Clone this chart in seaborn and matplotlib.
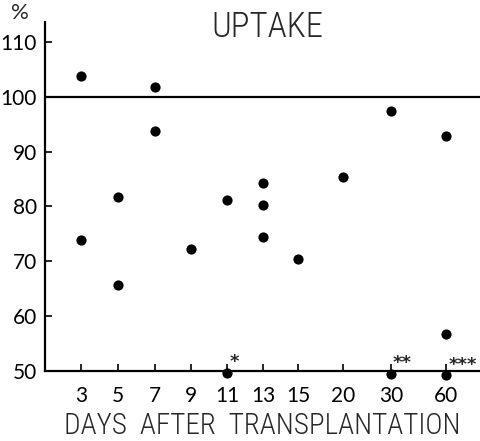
import matplotlib
matplotlib.use("Agg")
import matplotlib.pyplot as plt
import seaborn as sns
import pandas as pd
from matplotlib import font_manager

# ---- data ----
days = ["3", "5", "7", "9", "11", "13", "15", "20", "30", "60"]
# axis position of each day label (the original scale is not evenly spaced)
day_axis_pos = [0, 1.01, 2.03, 3.0, 4.0, 4.99, 5.95, 7.18, 8.49, 10.0]

point_day = ["3", "3", "5", "5", "7", "7", "9", "11", "13", "13", "13", "15", "20", "30", "60", "60"]
point_value = [103.8, 73.8, 81.7, 65.7, 101.8, 93.8, 72.3, 81.2, 84.2, 80.2, 74.5, 70.4, 85.3, 97.4, 92.9, 56.8]

sig_day = ["11", "30", "60"]
sig_value = [49.7, 49.5, 49.2]
sig_label = ["*", "**", "***"]

yticks = [50, 60, 70, 80, 90, 100, 110]
reference_level = 100

# ---- style ----
sns.set_style("ticks")
names = {f.name for f in font_manager.fontManager.ttflist}
base = ["Lato", "DejaVu Sans"] if "Lato" in names else ["DejaVu Sans"]
plt.rcParams["font.family"] = base
narrow = [n for n in ["Roboto Condensed", "Liberation Sans Narrow", "Open Sans Condensed"] if n in names]
cond = (narrow[:1] + base) if narrow else base

pos = dict(zip(days, day_axis_pos))
df = pd.DataFrame({"x": [pos[d] for d in point_day], "y": point_value})
dsig = pd.DataFrame({"x": [pos[d] for d in sig_day], "y": sig_value})

fig = plt.figure(figsize=(4.8, 4.41), dpi=100)
ax = fig.add_axes([45 / 480, 70 / 441, 1 - 45 / 480, (371 - 22) / 441])

ax.axhline(reference_level, color="black", lw=1.6, zorder=1)
sns.scatterplot(data=df, x="x", y="y", ax=ax, color="black", s=54,
                edgecolor="black", linewidth=0, zorder=3, clip_on=False, legend=False)
sns.scatterplot(data=dsig, x="x", y="y", ax=ax, color="black", s=54,
                edgecolor="black", linewidth=0, zorder=3, clip_on=False, legend=False)
for xv, yv, lab in zip(dsig["x"], dsig["y"], sig_label):
    ax.annotate(lab, (xv, yv), xytext=(1.5, 4), textcoords="offset points",
                ha="left", va="baseline", fontsize=13, fontweight="bold",
                family=["DejaVu Sans"], annotation_clip=False)

ax.set_xlim(-0.99, 10.93)
ax.set_ylim(50, 113.6)
ax.set_xticks(day_axis_pos)
ax.set_xticklabels(days)
ax.set_yticks(yticks)
ax.set_yticklabels([str(v) for v in yticks])

for side in ["top", "right"]:
    ax.spines[side].set_visible(False)
for side in ["left", "bottom"]:
    ax.spines[side].set_linewidth(1.6)
    ax.spines[side].set_color("black")

ax.tick_params(axis="both", direction="in", length=5, width=1.2, colors="black", labelsize=15)
ax.tick_params(axis="y", pad=6)
ax.tick_params(axis="x", pad=11)

ax.set_xlabel("DAYS  AFTER  TRANSPLANTATION", fontsize=21, labelpad=4,
              family=cond, fontweight="light")
ax.set_ylabel("")
fig.text(267 / 480, 1 - 27 / 441, "UPTAKE", fontsize=25, ha="center", va="center",
         family=cond, fontweight="light")
fig.text(20 / 480, 1 - 13 / 441, "%", fontsize=16, ha="center", va="center")

fig.savefig("out.png", dpi=100)
